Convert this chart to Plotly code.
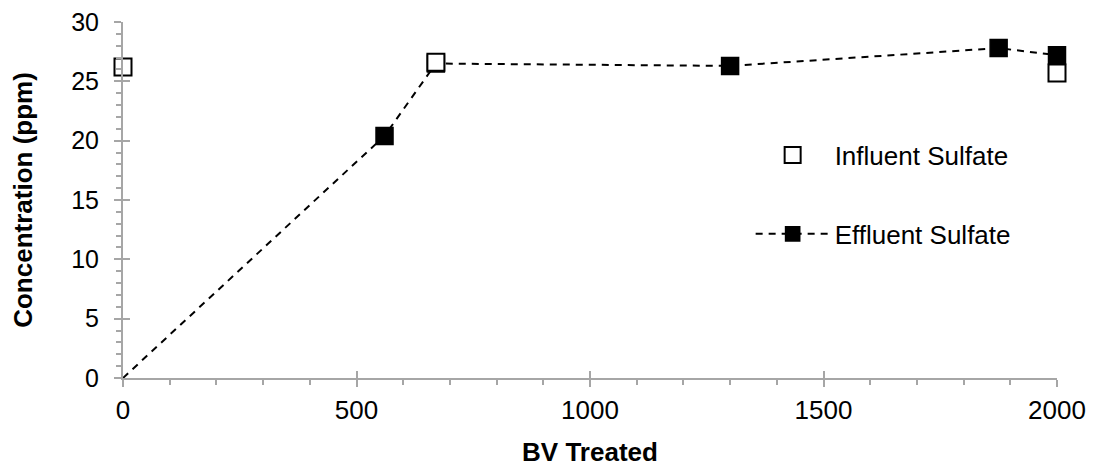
import plotly.graph_objects as go

# influent / effluent sulfate vs bed volumes treated
bv_influent = [0, 670, 2000]
conc_influent = [26.2, 26.6, 25.7]

bv_effluent = [0, 560, 670, 1300, 1875, 2000]
conc_effluent = [0, 20.4, 26.5, 26.3, 27.8, 27.2]

FONT = "Liberation Sans, Arial, sans-serif"
AXIS_GREY = "#a6a6a6"

# the line starts at the origin with no marker drawn there
eff_sizes = [0] + [17] * (len(bv_effluent) - 1)

fig = go.Figure()

# effluent first so the hollow influent squares sit on top
fig.add_trace(go.Scatter(
    x=bv_effluent, y=conc_effluent, name="Effluent Sulfate",
    mode="lines+markers", legendrank=2, legendgroup="eff", cliponaxis=False,
    line=dict(color="black", width=2, dash="7px,6px"),
    marker=dict(symbol="square", size=eff_sizes, color="black", opacity=1,
                line=dict(color="black", width=1.5)),
))
fig.add_trace(go.Scatter(
    x=bv_influent, y=conc_influent, name="Influent Sulfate",
    mode="markers", legendrank=1, legendgroup="inf", cliponaxis=False,
    marker=dict(symbol="square", size=17, color="white",
                line=dict(color="black", width=2)),
))

# empty trace so the overlay axes (inner half of the major ticks) get drawn
fig.add_trace(go.Scatter(x=[None], y=[None], xaxis="x2", yaxis="y2",
                         showlegend=False, hoverinfo="skip"))

# page body has an 8px margin, so the figure is offset by 8px
fig.update_layout(
    width=1094, height=470,
    margin=dict(l=115, r=45, t=14, b=100),
    paper_bgcolor="white", plot_bgcolor="white",
    font=dict(family=FONT, size=26, color="black"),
    showlegend=True,
    legend=dict(x=0.672, y=0.692, xanchor="left", yanchor="top",
                bgcolor="rgba(0,0,0,0)", tracegroupgap=42,
                font=dict(size=26), itemwidth=74),
    xaxis=dict(
        range=[0, 2000], dtick=500, tick0=0, automargin=False,
        showgrid=False, zeroline=False,
        showline=True, linecolor=AXIS_GREY, linewidth=2,
        ticks="outside", ticklen=7, tickwidth=2, tickcolor=AXIS_GREY,
        minor=dict(dtick=100, ticks="outside", ticklen=5,
                   tickwidth=1.5, tickcolor=AXIS_GREY),
        tickfont=dict(size=26), ticklabelstandoff=1, ticklabeloverflow="allow",
        title=dict(text="<b>BV Treated</b>", font=dict(size=26), standoff=19),
    ),
    yaxis=dict(
        range=[0, 30], dtick=5, tick0=0, automargin=False,
        showgrid=False, zeroline=False,
        showline=True, linecolor=AXIS_GREY, linewidth=2,
        ticks="outside", ticklen=7, tickwidth=2, tickcolor=AXIS_GREY,
        minor=dict(dtick=1, ticks="outside", ticklen=5,
                   tickwidth=1.5, tickcolor=AXIS_GREY),
        tickfont=dict(size=25), ticklabelstandoff=10, ticklabeloverflow="allow",
        title=dict(text="<b>Concentration (ppm)</b>", font=dict(size=26), standoff=47),
    ),
    xaxis2=dict(
        range=[0, 2000], dtick=500, tick0=0, overlaying="x", anchor="y",
        side="bottom", showgrid=False, zeroline=False, showline=False,
        ticks="inside", ticklen=7, tickwidth=2, tickcolor=AXIS_GREY,
        showticklabels=False, automargin=False,
    ),
    yaxis2=dict(
        range=[0, 30], dtick=5, tick0=0, overlaying="y", anchor="x",
        side="left", showgrid=False, zeroline=False, showline=False,
        ticks="inside", ticklen=7, tickwidth=2, tickcolor=AXIS_GREY,
        showticklabels=False, automargin=False,
    ),
)

fig.write_html("out.html")
